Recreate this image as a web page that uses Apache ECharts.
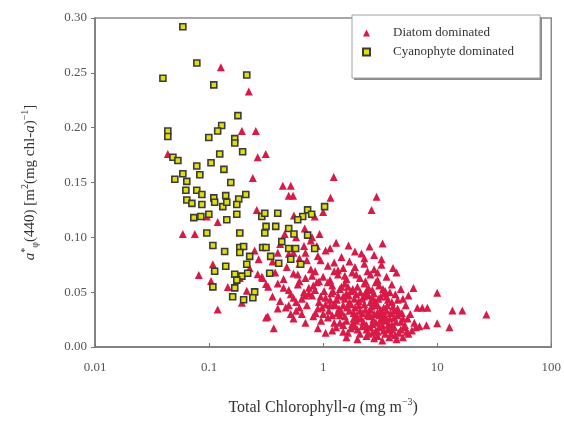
<!DOCTYPE html>
<html>
<head>
<meta charset="utf-8">
<script src="https://cdn.jsdelivr.net/npm/echarts@6/dist/echarts.min.js"></script>
<style>
  html, body { margin: 0; padding: 0; background: #fff; }
  #chart { width: 564px; height: 421px; }
</style>
</head>
<body>
<div id="chart"></div>
<script>
// ticks
var xTicks = [0.01, 0.1, 1, 10, 100];
var yTicks = [0, 0.05, 0.10, 0.15, 0.20, 0.25, 0.30];

// Diatom dominated: scattered points outside the main cloud [chl, a*]
var diatomScattered = [
  [0.127, 0.255], [0.223, 0.233], [0.194, 0.197], [0.257, 0.197], [0.0435, 0.176],
  [0.267, 0.173], [0.314, 0.176], [0.242, 0.154], [0.262, 0.125], [0.119, 0.114],
  [0.0955, 0.119], [0.0589, 0.103], [0.075, 0.103], [0.251, 0.088], [0.272, 0.080],
  [0.108, 0.0754], [0.0813, 0.0656], [0.104, 0.0602], [0.146, 0.0548], [0.214, 0.0512],
  [0.186, 0.0629], [0.295, 0.0629], [0.267, 0.0664], [0.316, 0.0575], [0.119, 0.0341],
  [0.327, 0.0278], [0.227, 0.0718], [0.194, 0.0404], [1.24, 0.155], [0.443, 0.147],
  [0.520, 0.147], [0.499, 0.138], [0.545, 0.138], [1.16, 0.136], [2.94, 0.137],
  [2.66, 0.125], [1.0, 0.123], [0.843, 0.119], [0.555, 0.120], [0.689, 0.108],
  [0.931, 0.103], [0.46, 0.103], [0.369, 0.017], [0.316, 0.027], [1.67, 0.0925],
  [2.17, 0.0853], [2.55, 0.0916], [3.32, 0.0943], [3.25, 0.080], [6.19, 0.0539],
  [10, 0.0494], [6.7, 0.0359], [7.4, 0.0359], [8.2, 0.0359], [13.6, 0.0332],
  [16.6, 0.0332], [27, 0.0296], [12.8, 0.018], [10, 0.0216], [8.05, 0.0198]
];

// Diatom dominated: dense cloud between ~0.3 and ~10 mg m-3
var diatomCloud = [
  [0.42, 0.094], [0.55, 0.086], [0.68, 0.092], [0.9, 0.083], [1.05, 0.088], [1.3, 0.095],
  [1.45, 0.082], [1.9, 0.087], [2.3, 0.081], [2.8, 0.084], [0.62, 0.081], [0.78, 0.097],
  [0.36, 0.078], [0.48, 0.073], [0.62, 0.076], [0.78, 0.071], [0.95, 0.079], [1.1, 0.074],
  [1.25, 0.077], [1.5, 0.072], [1.7, 0.078], [1.9, 0.073], [2.3, 0.076], [2.8, 0.071],
  [3.25, 0.075], [4.1, 0.072], [0.72, 0.079], [1.35, 0.07],
  [0.29, 0.064], [0.38, 0.068], [0.45, 0.062], [0.55, 0.067], [0.7, 0.063], [0.85, 0.069],
  [1.0, 0.064], [1.15, 0.061], [1.35, 0.066], [1.6, 0.062], [1.8, 0.068], [2.1, 0.063],
  [2.6, 0.066], [3.0, 0.061], [3.6, 0.064], [4.4, 0.068], [0.62, 0.06], [0.92, 0.06],
  [1.25, 0.069], [2.35, 0.06],
  [0.33, 0.055], [0.4, 0.058], [0.5, 0.052], [0.6, 0.057], [0.75, 0.054], [0.88, 0.059],
  [1.02, 0.051], [1.2, 0.056], [1.4, 0.053], [1.55, 0.058], [1.75, 0.051], [2.0, 0.055],
  [2.3, 0.058], [2.7, 0.052], [3.1, 0.056], [3.5, 0.051], [4.0, 0.057], [4.8, 0.053],
  [0.68, 0.05], [1.1, 0.059], [1.65, 0.055], [2.5, 0.054], [2.9, 0.059], [0.82, 0.056],
  [0.36, 0.046], [0.42, 0.042], [0.52, 0.048], [0.65, 0.044], [0.8, 0.047], [0.92, 0.041],
  [1.05, 0.045], [1.18, 0.049], [1.32, 0.043], [1.5, 0.046], [1.7, 0.041], [1.95, 0.048],
  [2.2, 0.044], [2.5, 0.047], [2.85, 0.042], [3.2, 0.046], [3.7, 0.043], [4.3, 0.048],
  [5.0, 0.044], [0.58, 0.041], [0.75, 0.049], [1.25, 0.04], [1.6, 0.049], [2.05, 0.042],
  [2.35, 0.049], [2.7, 0.045], [3.45, 0.049], [4.0, 0.041], [5.6, 0.047],
  [0.47, 0.036], [0.58, 0.033], [0.72, 0.038], [0.86, 0.031], [0.98, 0.036], [1.12, 0.033],
  [1.28, 0.038], [1.45, 0.032], [1.62, 0.036], [1.85, 0.031], [2.05, 0.038], [2.35, 0.034],
  [2.65, 0.037], [3.0, 0.032], [3.4, 0.036], [3.9, 0.031], [4.5, 0.035], [5.3, 0.038],
  [0.65, 0.03], [1.05, 0.039], [1.38, 0.035], [1.75, 0.039], [2.2, 0.031], [2.5, 0.032],
  [2.85, 0.039], [3.2, 0.034], [3.65, 0.038], [4.2, 0.033], [4.9, 0.031],
  [0.55, 0.026], [0.7, 0.022], [0.82, 0.028], [0.96, 0.024], [1.1, 0.027], [1.25, 0.022],
  [1.4, 0.029], [1.6, 0.024], [1.8, 0.021], [2.0, 0.027], [2.25, 0.023], [2.55, 0.028],
  [2.9, 0.022], [3.3, 0.026], [3.75, 0.021], [4.2, 0.027], [4.8, 0.023], [5.5, 0.026],
  [6.3, 0.022], [1.5, 0.02], [1.95, 0.029], [2.4, 0.02], [2.75, 0.025], [3.1, 0.029],
  [3.55, 0.024], [4.0, 0.02], [4.5, 0.029], [5.2, 0.02],
  [0.9, 0.017], [1.05, 0.013], [1.3, 0.018], [1.5, 0.014], [1.75, 0.017], [2.1, 0.012],
  [2.4, 0.016], [2.7, 0.013], [3.1, 0.018], [3.5, 0.012], [4.0, 0.016], [4.6, 0.013],
  [5.2, 0.018], [6.0, 0.015], [7.0, 0.019], [1.9, 0.019], [2.9, 0.015], [3.8, 0.019],
  [4.3, 0.011], [5.6, 0.012],
  [1.6, 0.009], [2.0, 0.007], [2.4, 0.01], [2.8, 0.008], [3.3, 0.006], [3.8, 0.009],
  [4.4, 0.007], [5.0, 0.009], [3.0, 0.01]
];

// Diatom dominated: extra points filling the dense core
var diatomCore = [
  [0.85, 0.052], [0.95, 0.046], [1.15, 0.043], [1.22, 0.051], [1.35, 0.047], [1.45, 0.055],
  [1.55, 0.044], [1.68, 0.047], [1.82, 0.053], [1.88, 0.044], [2.12, 0.05], [2.28, 0.046],
  [2.42, 0.052], [2.6, 0.041], [2.78, 0.049], [3.05, 0.044], [3.35, 0.053], [3.6, 0.046],
  [3.85, 0.05], [4.5, 0.043],
  [0.9, 0.035], [1.0, 0.03], [1.15, 0.038], [1.2, 0.029], [1.33, 0.031], [1.5, 0.038],
  [1.55, 0.028], [1.7, 0.033], [1.9, 0.036], [1.95, 0.024], [2.1, 0.033], [2.15, 0.026],
  [2.3, 0.039], [2.45, 0.029], [2.6, 0.034], [2.7, 0.021], [2.8, 0.03], [3.0, 0.038],
  [3.15, 0.024], [3.3, 0.031], [3.5, 0.028], [3.6, 0.033], [3.85, 0.026], [4.1, 0.037],
  [4.35, 0.023], [4.6, 0.031], [5.0, 0.026], [5.8, 0.03],
  [1.2, 0.015], [1.4, 0.022], [1.65, 0.013], [1.85, 0.026], [2.0, 0.016], [2.2, 0.019],
  [2.5, 0.012], [2.6, 0.018], [3.0, 0.014], [3.3, 0.02], [3.4, 0.015], [3.7, 0.016],
  [3.95, 0.012], [4.2, 0.018], [4.8, 0.016], [5.4, 0.014], [6.5, 0.018],
  [0.4, 0.035], [0.5, 0.038], [0.52, 0.03], [0.62, 0.036], [0.45, 0.054], [0.55, 0.045],
  [0.7, 0.047], [0.6, 0.066], [0.8, 0.065], [0.5, 0.085], [0.7, 0.086], [0.88, 0.092],
  [0.4, 0.086], [1.15, 0.09], [0.58, 0.1], [0.8, 0.1], [1.55, 0.065], [1.95, 0.066],
  [2.45, 0.069], [3.0, 0.068]
];

// Cyanophyte dominated
var cyanoPoints = [
  [0.0589, 0.292], [0.0781, 0.259], [0.0394, 0.245], [0.214, 0.248], [0.110, 0.239],
  [0.179, 0.211], [0.129, 0.202], [0.0435, 0.197], [0.119, 0.197], [0.0435, 0.192],
  [0.0995, 0.191], [0.168, 0.190], [0.168, 0.186], [0.124, 0.176], [0.197, 0.178],
  [0.0482, 0.173], [0.0533, 0.170], [0.104, 0.168], [0.078, 0.165], [0.135, 0.162],
  [0.0589, 0.158], [0.083, 0.157], [0.0501, 0.153], [0.0638, 0.151], [0.155, 0.150],
  [0.0626, 0.143], [0.078, 0.143], [0.0865, 0.139], [0.110, 0.136], [0.140, 0.138],
  [0.210, 0.139], [0.182, 0.135], [0.0638, 0.134], [0.0707, 0.131], [0.0865, 0.130],
  [0.112, 0.132], [0.132, 0.128], [0.143, 0.132], [0.175, 0.130], [0.175, 0.121],
  [0.0735, 0.118], [0.0847, 0.119], [0.0995, 0.121], [0.143, 0.116], [0.186, 0.104],
  [0.0955, 0.104], [0.290, 0.119], [0.308, 0.122], [0.316, 0.110], [0.308, 0.104],
  [0.108, 0.0925], [0.137, 0.0871], [0.186, 0.0907], [0.201, 0.0916], [0.186, 0.0862],
  [0.227, 0.0826], [0.295, 0.0907], [0.140, 0.0736], [0.112, 0.0691], [0.168, 0.0664],
  [0.194, 0.0646], [0.214, 0.0754], [0.218, 0.0673], [0.175, 0.0610], [0.108, 0.0548],
  [0.168, 0.0539], [0.251, 0.0503], [0.242, 0.0449], [0.161, 0.0458], [0.201, 0.0431],
  [0.340, 0.0673], [1.03, 0.128], [0.731, 0.125], [0.793, 0.121], [0.662, 0.119],
  [0.599, 0.116], [0.400, 0.122], [0.384, 0.110], [0.499, 0.108], [0.555, 0.103],
  [0.731, 0.102], [0.843, 0.0898], [0.499, 0.0898], [0.574, 0.0898], [0.434, 0.0961],
  [0.347, 0.0826], [0.408, 0.0763], [0.52, 0.080], [0.636, 0.0754], [0.316, 0.0907]
];

var serif = 'Liberation Serif';
var chart = echarts.init(document.getElementById('chart'));

var supRich = {
  i: { fontStyle: 'italic', fontFamily: serif, fontSize: 16, color: '#333', lineHeight: 22, verticalAlign: 'middle' },
  s: { fontFamily: serif, fontSize: 10, color: '#333', lineHeight: 22, verticalAlign: 'top' },
  b: { fontFamily: serif, fontSize: 10, color: '#333', lineHeight: 22, verticalAlign: 'bottom' }
};
var supRichY = {
  i: { fontStyle: 'italic', fontFamily: serif, fontSize: 15, color: '#333', lineHeight: 20, verticalAlign: 'middle' },
  s: { fontFamily: serif, fontSize: 10, color: '#333', lineHeight: 20, verticalAlign: 'top' },
  b: { fontFamily: serif, fontSize: 10, color: '#333', lineHeight: 20, verticalAlign: 'bottom' }
};

var option = {
  animation: false,
  backgroundColor: '#fff',
  grid: {
    left: 95, right: 12, top: 18, bottom: 69,
    show: true, borderColor: '#8a8a8a', borderWidth: 1.5
  },
  graphic: [
    { type: 'rect', z: 1, shape: { x: 354, y: 17, width: 188, height: 63 }, style: { fill: '#8a8a8a' } },
    { type: 'rect', z: 1, shape: { x: 352, y: 15, width: 188, height: 63 }, style: { fill: '#fff', stroke: '#a0a0a0', lineWidth: 1 } }
  ],
  legend: {
    z: 10,
    left: 362, top: 26,
    orient: 'vertical',
    itemWidth: 7, itemHeight: 7, itemGap: 5,
    padding: 0,
    textStyle: { fontFamily: serif, fontSize: 13, color: '#333', lineHeight: 14, padding: [0, 0, 0, 18] },
    data: ['Diatom dominated', 'Cyanophyte dominated']
  },
  xAxis: {
    type: 'log', logBase: 10, min: 0.01, max: 100,
    name: 'Total Chlorophyll-{i|a} (mg m{s|−3})',
    nameLocation: 'middle', nameGap: 50,
    nameTextStyle: { fontFamily: serif, fontSize: 16, color: '#333', rich: supRich },
    axisLine: { lineStyle: { color: '#777', width: 1.5 } },
    axisTick: { inside: true, length: 4, lineStyle: { color: '#777' } },
    axisLabel: {
      fontFamily: serif, fontSize: 13, color: '#555', margin: 14,
      formatter: function (v) {
        var t = xTicks.filter(function (k) { return Math.abs(k - v) / k < 1e-6; });
        return t.length ? String(t[0]) : '';
      }
    },
    splitLine: { show: false }
  },
  yAxis: {
    type: 'value', min: 0, max: 0.30, interval: 0.05,
    name: '{i|a}{s|*}{b|φ}(440) [m{s|2}(mg chl-{i|a}){s|−1}]',
    nameLocation: 'middle', nameGap: 55, nameRotate: 90,
    nameTextStyle: { fontFamily: serif, fontSize: 15, color: '#333', rich: supRichY },
    axisLine: { show: true, lineStyle: { color: '#777', width: 1.5 } },
    axisTick: { show: true, length: 4, lineStyle: { color: '#777' } },
    axisLabel: {
      fontFamily: serif, fontSize: 13, color: '#555', margin: 8,
      formatter: function (v) { return v.toFixed(2); }
    },
    splitLine: { show: false }
  },
  series: [
    {
      name: 'Diatom dominated',
      type: 'scatter',
      symbol: 'triangle',
      symbolSize: 8,
      itemStyle: { color: '#d91a46', opacity: 1 },
      data: diatomScattered.concat(diatomCloud, diatomCore)
    },
    {
      name: 'Cyanophyte dominated',
      type: 'scatter',
      symbol: 'rect',
      symbolSize: 6,
      itemStyle: { color: '#e2e000', borderColor: '#3a3a3a', borderWidth: 1.6, opacity: 1 },
      data: cyanoPoints
    }
  ]
};

chart.setOption(option);
</script>
</body>
</html>
